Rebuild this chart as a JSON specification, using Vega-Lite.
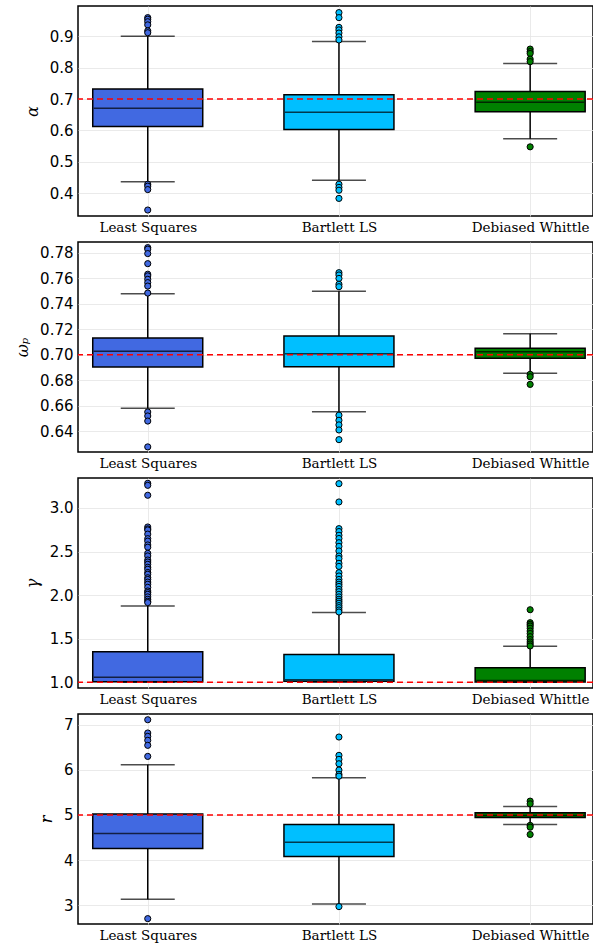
{
  "$schema": "https://vega.github.io/schema/vega-lite/v6.json",
  "padding": {"left": 13, "top": 5, "right": 1, "bottom": 0},
  "spacing": 6,
  "datasets": {
    "boxes": [
      {"panel": "alpha", "method": "Least Squares", "lo": 0.437, "q1": 0.613, "med": 0.671, "q3": 0.732, "hi": 0.9},
      {"panel": "alpha", "method": "Bartlett LS", "lo": 0.442, "q1": 0.603, "med": 0.658, "q3": 0.714, "hi": 0.883},
      {"panel": "alpha", "method": "Debiased Whittle", "lo": 0.574, "q1": 0.66, "med": 0.69, "q3": 0.724, "hi": 0.813},
      {"panel": "omega", "method": "Least Squares", "lo": 0.658, "q1": 0.6905, "med": 0.7028, "q3": 0.7133, "hi": 0.748},
      {"panel": "omega", "method": "Bartlett LS", "lo": 0.6554, "q1": 0.6907, "med": 0.7009, "q3": 0.7148, "hi": 0.7499},
      {"panel": "omega", "method": "Debiased Whittle", "lo": 0.6855, "q1": 0.6973, "med": 0.7025, "q3": 0.7052, "hi": 0.7166},
      {"panel": "gamma", "method": "Least Squares", "lo": 1.0, "q1": 1.008, "med": 1.058, "q3": 1.352, "hi": 1.876},
      {"panel": "gamma", "method": "Bartlett LS", "lo": 1.0, "q1": 1.012, "med": 1.03, "q3": 1.32, "hi": 1.8},
      {"panel": "gamma", "method": "Debiased Whittle", "lo": 1.0, "q1": 1.005, "med": 1.02, "q3": 1.168, "hi": 1.413},
      {"panel": "r", "method": "Least Squares", "lo": 3.133, "q1": 4.258, "med": 4.59, "q3": 5.02, "hi": 6.113},
      {"panel": "r", "method": "Bartlett LS", "lo": 3.028, "q1": 4.08, "med": 4.397, "q3": 4.79, "hi": 5.824},
      {"panel": "r", "method": "Debiased Whittle", "lo": 4.79, "q1": 4.945, "med": 4.99, "q3": 5.048, "hi": 5.19}
    ],
    "outliers": [
      {"panel": "alpha", "method": "Least Squares", "v": 0.959},
      {"panel": "alpha", "method": "Least Squares", "v": 0.954},
      {"panel": "alpha", "method": "Least Squares", "v": 0.946},
      {"panel": "alpha", "method": "Least Squares", "v": 0.936},
      {"panel": "alpha", "method": "Least Squares", "v": 0.917},
      {"panel": "alpha", "method": "Least Squares", "v": 0.911},
      {"panel": "alpha", "method": "Least Squares", "v": 0.429},
      {"panel": "alpha", "method": "Least Squares", "v": 0.423},
      {"panel": "alpha", "method": "Least Squares", "v": 0.412},
      {"panel": "alpha", "method": "Least Squares", "v": 0.347},
      {"panel": "alpha", "method": "Bartlett LS", "v": 0.975},
      {"panel": "alpha", "method": "Bartlett LS", "v": 0.959},
      {"panel": "alpha", "method": "Bartlett LS", "v": 0.928},
      {"panel": "alpha", "method": "Bartlett LS", "v": 0.92},
      {"panel": "alpha", "method": "Bartlett LS", "v": 0.91},
      {"panel": "alpha", "method": "Bartlett LS", "v": 0.898},
      {"panel": "alpha", "method": "Bartlett LS", "v": 0.888},
      {"panel": "alpha", "method": "Bartlett LS", "v": 0.429},
      {"panel": "alpha", "method": "Bartlett LS", "v": 0.419},
      {"panel": "alpha", "method": "Bartlett LS", "v": 0.41},
      {"panel": "alpha", "method": "Bartlett LS", "v": 0.384},
      {"panel": "alpha", "method": "Debiased Whittle", "v": 0.859},
      {"panel": "alpha", "method": "Debiased Whittle", "v": 0.851},
      {"panel": "alpha", "method": "Debiased Whittle", "v": 0.845},
      {"panel": "alpha", "method": "Debiased Whittle", "v": 0.827},
      {"panel": "alpha", "method": "Debiased Whittle", "v": 0.819},
      {"panel": "alpha", "method": "Debiased Whittle", "v": 0.548},
      {"panel": "omega", "method": "Least Squares", "v": 0.7842},
      {"panel": "omega", "method": "Least Squares", "v": 0.783},
      {"panel": "omega", "method": "Least Squares", "v": 0.7795},
      {"panel": "omega", "method": "Least Squares", "v": 0.7716},
      {"panel": "omega", "method": "Least Squares", "v": 0.7633},
      {"panel": "omega", "method": "Least Squares", "v": 0.762},
      {"panel": "omega", "method": "Least Squares", "v": 0.7593},
      {"panel": "omega", "method": "Least Squares", "v": 0.7567},
      {"panel": "omega", "method": "Least Squares", "v": 0.754},
      {"panel": "omega", "method": "Least Squares", "v": 0.7485},
      {"panel": "omega", "method": "Least Squares", "v": 0.6551},
      {"panel": "omega", "method": "Least Squares", "v": 0.652},
      {"panel": "omega", "method": "Least Squares", "v": 0.648},
      {"panel": "omega", "method": "Least Squares", "v": 0.6277},
      {"panel": "omega", "method": "Bartlett LS", "v": 0.7645},
      {"panel": "omega", "method": "Bartlett LS", "v": 0.7627},
      {"panel": "omega", "method": "Bartlett LS", "v": 0.76},
      {"panel": "omega", "method": "Bartlett LS", "v": 0.7554},
      {"panel": "omega", "method": "Bartlett LS", "v": 0.7535},
      {"panel": "omega", "method": "Bartlett LS", "v": 0.6526},
      {"panel": "omega", "method": "Bartlett LS", "v": 0.6486},
      {"panel": "omega", "method": "Bartlett LS", "v": 0.645},
      {"panel": "omega", "method": "Bartlett LS", "v": 0.641},
      {"panel": "omega", "method": "Bartlett LS", "v": 0.6334},
      {"panel": "omega", "method": "Debiased Whittle", "v": 0.6847},
      {"panel": "omega", "method": "Debiased Whittle", "v": 0.6828},
      {"panel": "omega", "method": "Debiased Whittle", "v": 0.6768},
      {"panel": "gamma", "method": "Least Squares", "v": 3.283},
      {"panel": "gamma", "method": "Least Squares", "v": 3.26},
      {"panel": "gamma", "method": "Least Squares", "v": 3.146},
      {"panel": "gamma", "method": "Least Squares", "v": 2.782},
      {"panel": "gamma", "method": "Least Squares", "v": 2.76},
      {"panel": "gamma", "method": "Least Squares", "v": 2.748},
      {"panel": "gamma", "method": "Least Squares", "v": 2.7},
      {"panel": "gamma", "method": "Least Squares", "v": 2.648},
      {"panel": "gamma", "method": "Least Squares", "v": 2.62},
      {"panel": "gamma", "method": "Least Squares", "v": 2.576},
      {"panel": "gamma", "method": "Least Squares", "v": 2.55},
      {"panel": "gamma", "method": "Least Squares", "v": 2.48},
      {"panel": "gamma", "method": "Least Squares", "v": 2.45},
      {"panel": "gamma", "method": "Least Squares", "v": 2.403},
      {"panel": "gamma", "method": "Least Squares", "v": 2.38},
      {"panel": "gamma", "method": "Least Squares", "v": 2.354},
      {"panel": "gamma", "method": "Least Squares", "v": 2.32},
      {"panel": "gamma", "method": "Least Squares", "v": 2.297},
      {"panel": "gamma", "method": "Least Squares", "v": 2.26},
      {"panel": "gamma", "method": "Least Squares", "v": 2.24},
      {"panel": "gamma", "method": "Least Squares", "v": 2.2},
      {"panel": "gamma", "method": "Least Squares", "v": 2.18},
      {"panel": "gamma", "method": "Least Squares", "v": 2.15},
      {"panel": "gamma", "method": "Least Squares", "v": 2.125},
      {"panel": "gamma", "method": "Least Squares", "v": 2.09},
      {"panel": "gamma", "method": "Least Squares", "v": 2.048},
      {"panel": "gamma", "method": "Least Squares", "v": 2.03},
      {"panel": "gamma", "method": "Least Squares", "v": 2.01},
      {"panel": "gamma", "method": "Least Squares", "v": 1.98},
      {"panel": "gamma", "method": "Least Squares", "v": 1.953},
      {"panel": "gamma", "method": "Least Squares", "v": 1.93},
      {"panel": "gamma", "method": "Least Squares", "v": 1.915},
      {"panel": "gamma", "method": "Bartlett LS", "v": 3.279},
      {"panel": "gamma", "method": "Bartlett LS", "v": 3.069},
      {"panel": "gamma", "method": "Bartlett LS", "v": 2.763},
      {"panel": "gamma", "method": "Bartlett LS", "v": 2.73},
      {"panel": "gamma", "method": "Bartlett LS", "v": 2.687},
      {"panel": "gamma", "method": "Bartlett LS", "v": 2.65},
      {"panel": "gamma", "method": "Bartlett LS", "v": 2.602},
      {"panel": "gamma", "method": "Bartlett LS", "v": 2.56},
      {"panel": "gamma", "method": "Bartlett LS", "v": 2.507},
      {"panel": "gamma", "method": "Bartlett LS", "v": 2.449},
      {"panel": "gamma", "method": "Bartlett LS", "v": 2.42},
      {"panel": "gamma", "method": "Bartlett LS", "v": 2.365},
      {"panel": "gamma", "method": "Bartlett LS", "v": 2.33},
      {"panel": "gamma", "method": "Bartlett LS", "v": 2.258},
      {"panel": "gamma", "method": "Bartlett LS", "v": 2.22},
      {"panel": "gamma", "method": "Bartlett LS", "v": 2.18},
      {"panel": "gamma", "method": "Bartlett LS", "v": 2.15},
      {"panel": "gamma", "method": "Bartlett LS", "v": 2.125},
      {"panel": "gamma", "method": "Bartlett LS", "v": 2.1},
      {"panel": "gamma", "method": "Bartlett LS", "v": 2.067},
      {"panel": "gamma", "method": "Bartlett LS", "v": 2.04},
      {"panel": "gamma", "method": "Bartlett LS", "v": 2.01},
      {"panel": "gamma", "method": "Bartlett LS", "v": 1.98},
      {"panel": "gamma", "method": "Bartlett LS", "v": 1.953},
      {"panel": "gamma", "method": "Bartlett LS", "v": 1.93},
      {"panel": "gamma", "method": "Bartlett LS", "v": 1.907},
      {"panel": "gamma", "method": "Bartlett LS", "v": 1.88},
      {"panel": "gamma", "method": "Bartlett LS", "v": 1.857},
      {"panel": "gamma", "method": "Bartlett LS", "v": 1.83},
      {"panel": "gamma", "method": "Bartlett LS", "v": 1.807},
      {"panel": "gamma", "method": "Debiased Whittle", "v": 1.833},
      {"panel": "gamma", "method": "Debiased Whittle", "v": 1.684},
      {"panel": "gamma", "method": "Debiased Whittle", "v": 1.665},
      {"panel": "gamma", "method": "Debiased Whittle", "v": 1.646},
      {"panel": "gamma", "method": "Debiased Whittle", "v": 1.62},
      {"panel": "gamma", "method": "Debiased Whittle", "v": 1.589},
      {"panel": "gamma", "method": "Debiased Whittle", "v": 1.56},
      {"panel": "gamma", "method": "Debiased Whittle", "v": 1.524},
      {"panel": "gamma", "method": "Debiased Whittle", "v": 1.49},
      {"panel": "gamma", "method": "Debiased Whittle", "v": 1.463},
      {"panel": "gamma", "method": "Debiased Whittle", "v": 1.44},
      {"panel": "gamma", "method": "Debiased Whittle", "v": 1.417},
      {"panel": "r", "method": "Least Squares", "v": 7.11},
      {"panel": "r", "method": "Least Squares", "v": 6.816},
      {"panel": "r", "method": "Least Squares", "v": 6.742},
      {"panel": "r", "method": "Least Squares", "v": 6.654},
      {"panel": "r", "method": "Least Squares", "v": 6.543},
      {"panel": "r", "method": "Least Squares", "v": 6.298},
      {"panel": "r", "method": "Least Squares", "v": 2.704},
      {"panel": "r", "method": "Bartlett LS", "v": 6.727},
      {"panel": "r", "method": "Bartlett LS", "v": 6.321},
      {"panel": "r", "method": "Bartlett LS", "v": 6.232},
      {"panel": "r", "method": "Bartlett LS", "v": 6.135},
      {"panel": "r", "method": "Bartlett LS", "v": 5.995},
      {"panel": "r", "method": "Bartlett LS", "v": 5.9},
      {"panel": "r", "method": "Bartlett LS", "v": 5.86},
      {"panel": "r", "method": "Bartlett LS", "v": 2.97},
      {"panel": "r", "method": "Debiased Whittle", "v": 5.307},
      {"panel": "r", "method": "Debiased Whittle", "v": 5.247},
      {"panel": "r", "method": "Debiased Whittle", "v": 4.77},
      {"panel": "r", "method": "Debiased Whittle", "v": 4.73},
      {"panel": "r", "method": "Debiased Whittle", "v": 4.568}
    ]
  },
  "vconcat": [
    {
      "width": 515, "height": 210,
      "layer": [
        {"data": {"name": "boxes"}, "transform": [{"filter": "datum.panel === 'alpha'"}],
         "mark": {"type": "rule", "color": "black", "strokeWidth": 1.5},
         "encoding": {
           "x": {"field": "method", "type": "nominal", "sort": ["Least Squares", "Bartlett LS", "Debiased Whittle"], "scale": {"type": "point", "padding": 0.3467, "align": 0.526}, "axis": {"title": null}},
           "y": {"field": "lo", "type": "quantitative", "scale": {"domain": [0.328, 0.996], "nice": false, "zero": false}, "axis": {"title": "α", "values": [0.4, 0.5, 0.6, 0.7, 0.8, 0.9], "format": ".1f"}},
           "y2": {"field": "hi"}}},
        {"data": {"name": "boxes"}, "transform": [{"filter": "datum.panel === 'alpha'"}],
         "mark": {"type": "bar", "width": 110, "stroke": "black", "strokeWidth": 1.5},
         "encoding": {
           "x": {"field": "method", "type": "nominal", "sort": ["Least Squares", "Bartlett LS", "Debiased Whittle"], "scale": {"type": "point", "padding": 0.3467, "align": 0.526}, "axis": {"title": null}},
           "y": {"field": "q1", "type": "quantitative", "scale": {"domain": [0.328, 0.996], "nice": false, "zero": false}, "axis": {"title": "α", "values": [0.4, 0.5, 0.6, 0.7, 0.8, 0.9], "format": ".1f"}},
           "y2": {"field": "q3"},
           "fill": {"field": "method", "type": "nominal", "scale": {"domain": ["Least Squares", "Bartlett LS", "Debiased Whittle"], "range": ["#4169E1", "#00BFFF", "#008000"]}, "legend": null}}},
        {"data": {"name": "boxes"}, "transform": [{"filter": "datum.panel === 'alpha'"}, {"fold": ["lo", "hi"], "as": ["end", "cap"]}],
         "mark": {"type": "tick", "color": "black", "size": 54, "thickness": 1.5},
         "encoding": {
           "x": {"field": "method", "type": "nominal", "sort": ["Least Squares", "Bartlett LS", "Debiased Whittle"], "scale": {"type": "point", "padding": 0.3467, "align": 0.526}, "axis": {"title": null}},
           "y": {"field": "cap", "type": "quantitative", "scale": {"domain": [0.328, 0.996], "nice": false, "zero": false}, "axis": {"title": "α", "values": [0.4, 0.5, 0.6, 0.7, 0.8, 0.9], "format": ".1f"}}}},
        {"data": {"name": "boxes"}, "transform": [{"filter": "datum.panel === 'alpha'"}],
         "mark": {"type": "tick", "color": "black", "size": 108, "thickness": 1.5},
         "encoding": {
           "x": {"field": "method", "type": "nominal", "sort": ["Least Squares", "Bartlett LS", "Debiased Whittle"], "scale": {"type": "point", "padding": 0.3467, "align": 0.526}, "axis": {"title": null}},
           "y": {"field": "med", "type": "quantitative", "scale": {"domain": [0.328, 0.996], "nice": false, "zero": false}, "axis": {"title": "α", "values": [0.4, 0.5, 0.6, 0.7, 0.8, 0.9], "format": ".1f"}}}},
        {"data": {"name": "outliers"}, "transform": [{"filter": "datum.panel === 'alpha'"}],
         "mark": {"type": "point", "filled": true, "stroke": "black", "strokeWidth": 1, "size": 38, "opacity": 1},
         "encoding": {
           "x": {"field": "method", "type": "nominal", "sort": ["Least Squares", "Bartlett LS", "Debiased Whittle"], "scale": {"type": "point", "padding": 0.3467, "align": 0.526}, "axis": {"title": null}},
           "y": {"field": "v", "type": "quantitative", "scale": {"domain": [0.328, 0.996], "nice": false, "zero": false}, "axis": {"title": "α", "values": [0.4, 0.5, 0.6, 0.7, 0.8, 0.9], "format": ".1f"}},
           "fill": {"field": "method", "type": "nominal", "scale": {"domain": ["Least Squares", "Bartlett LS", "Debiased Whittle"], "range": ["#4169E1", "#00BFFF", "#008000"]}, "legend": null}}},
        {"data": {"values": [{"truth": 0.7}]},
         "mark": {"type": "rule", "color": "#ff0000", "strokeWidth": 1.5, "strokeDash": [6, 4]},
         "encoding": {
           "y": {"field": "truth", "type": "quantitative", "scale": {"domain": [0.328, 0.996], "nice": false, "zero": false}, "axis": {"title": "α", "values": [0.4, 0.5, 0.6, 0.7, 0.8, 0.9], "format": ".1f"}}}}
      ]
    },
    {
      "width": 515, "height": 210,
      "layer": [
        {"data": {"name": "boxes"}, "transform": [{"filter": "datum.panel === 'omega'"}],
         "mark": {"type": "rule", "color": "black", "strokeWidth": 1.5},
         "encoding": {
           "x": {"field": "method", "type": "nominal", "sort": ["Least Squares", "Bartlett LS", "Debiased Whittle"], "scale": {"type": "point", "padding": 0.3467, "align": 0.526}, "axis": {"title": null}},
           "y": {"field": "lo", "type": "quantitative", "scale": {"domain": [0.6237, 0.7886], "nice": false, "zero": false}, "axis": {"title": "ωₚ", "values": [0.64, 0.66, 0.68, 0.7, 0.72, 0.74, 0.76, 0.78], "format": ".2f"}},
           "y2": {"field": "hi"}}},
        {"data": {"name": "boxes"}, "transform": [{"filter": "datum.panel === 'omega'"}],
         "mark": {"type": "bar", "width": 110, "stroke": "black", "strokeWidth": 1.5},
         "encoding": {
           "x": {"field": "method", "type": "nominal", "sort": ["Least Squares", "Bartlett LS", "Debiased Whittle"], "scale": {"type": "point", "padding": 0.3467, "align": 0.526}, "axis": {"title": null}},
           "y": {"field": "q1", "type": "quantitative", "scale": {"domain": [0.6237, 0.7886], "nice": false, "zero": false}, "axis": {"title": "ωₚ", "values": [0.64, 0.66, 0.68, 0.7, 0.72, 0.74, 0.76, 0.78], "format": ".2f"}},
           "y2": {"field": "q3"},
           "fill": {"field": "method", "type": "nominal", "scale": {"domain": ["Least Squares", "Bartlett LS", "Debiased Whittle"], "range": ["#4169E1", "#00BFFF", "#008000"]}, "legend": null}}},
        {"data": {"name": "boxes"}, "transform": [{"filter": "datum.panel === 'omega'"}, {"fold": ["lo", "hi"], "as": ["end", "cap"]}],
         "mark": {"type": "tick", "color": "black", "size": 54, "thickness": 1.5},
         "encoding": {
           "x": {"field": "method", "type": "nominal", "sort": ["Least Squares", "Bartlett LS", "Debiased Whittle"], "scale": {"type": "point", "padding": 0.3467, "align": 0.526}, "axis": {"title": null}},
           "y": {"field": "cap", "type": "quantitative", "scale": {"domain": [0.6237, 0.7886], "nice": false, "zero": false}, "axis": {"title": "ωₚ", "values": [0.64, 0.66, 0.68, 0.7, 0.72, 0.74, 0.76, 0.78], "format": ".2f"}}}},
        {"data": {"name": "boxes"}, "transform": [{"filter": "datum.panel === 'omega'"}],
         "mark": {"type": "tick", "color": "black", "size": 108, "thickness": 1.5},
         "encoding": {
           "x": {"field": "method", "type": "nominal", "sort": ["Least Squares", "Bartlett LS", "Debiased Whittle"], "scale": {"type": "point", "padding": 0.3467, "align": 0.526}, "axis": {"title": null}},
           "y": {"field": "med", "type": "quantitative", "scale": {"domain": [0.6237, 0.7886], "nice": false, "zero": false}, "axis": {"title": "ωₚ", "values": [0.64, 0.66, 0.68, 0.7, 0.72, 0.74, 0.76, 0.78], "format": ".2f"}}}},
        {"data": {"name": "outliers"}, "transform": [{"filter": "datum.panel === 'omega'"}],
         "mark": {"type": "point", "filled": true, "stroke": "black", "strokeWidth": 1, "size": 38, "opacity": 1},
         "encoding": {
           "x": {"field": "method", "type": "nominal", "sort": ["Least Squares", "Bartlett LS", "Debiased Whittle"], "scale": {"type": "point", "padding": 0.3467, "align": 0.526}, "axis": {"title": null}},
           "y": {"field": "v", "type": "quantitative", "scale": {"domain": [0.6237, 0.7886], "nice": false, "zero": false}, "axis": {"title": "ωₚ", "values": [0.64, 0.66, 0.68, 0.7, 0.72, 0.74, 0.76, 0.78], "format": ".2f"}},
           "fill": {"field": "method", "type": "nominal", "scale": {"domain": ["Least Squares", "Bartlett LS", "Debiased Whittle"], "range": ["#4169E1", "#00BFFF", "#008000"]}, "legend": null}}},
        {"data": {"values": [{"truth": 0.7}]},
         "mark": {"type": "rule", "color": "#ff0000", "strokeWidth": 1.5, "strokeDash": [6, 4]},
         "encoding": {
           "y": {"field": "truth", "type": "quantitative", "scale": {"domain": [0.6237, 0.7886], "nice": false, "zero": false}, "axis": {"title": "ωₚ", "values": [0.64, 0.66, 0.68, 0.7, 0.72, 0.74, 0.76, 0.78], "format": ".2f"}}}}
      ]
    },
    {
      "width": 515, "height": 210,
      "layer": [
        {"data": {"name": "boxes"}, "transform": [{"filter": "datum.panel === 'gamma'"}],
         "mark": {"type": "rule", "color": "black", "strokeWidth": 1.5},
         "encoding": {
           "x": {"field": "method", "type": "nominal", "sort": ["Least Squares", "Bartlett LS", "Debiased Whittle"], "scale": {"type": "point", "padding": 0.3467, "align": 0.526}, "axis": {"title": null}},
           "y": {"field": "lo", "type": "quantitative", "scale": {"domain": [0.935, 3.344], "nice": false, "zero": false}, "axis": {"title": "γ", "values": [1.0, 1.5, 2.0, 2.5, 3.0], "format": ".1f"}},
           "y2": {"field": "hi"}}},
        {"data": {"name": "boxes"}, "transform": [{"filter": "datum.panel === 'gamma'"}],
         "mark": {"type": "bar", "width": 110, "stroke": "black", "strokeWidth": 1.5},
         "encoding": {
           "x": {"field": "method", "type": "nominal", "sort": ["Least Squares", "Bartlett LS", "Debiased Whittle"], "scale": {"type": "point", "padding": 0.3467, "align": 0.526}, "axis": {"title": null}},
           "y": {"field": "q1", "type": "quantitative", "scale": {"domain": [0.935, 3.344], "nice": false, "zero": false}, "axis": {"title": "γ", "values": [1.0, 1.5, 2.0, 2.5, 3.0], "format": ".1f"}},
           "y2": {"field": "q3"},
           "fill": {"field": "method", "type": "nominal", "scale": {"domain": ["Least Squares", "Bartlett LS", "Debiased Whittle"], "range": ["#4169E1", "#00BFFF", "#008000"]}, "legend": null}}},
        {"data": {"name": "boxes"}, "transform": [{"filter": "datum.panel === 'gamma'"}, {"fold": ["lo", "hi"], "as": ["end", "cap"]}],
         "mark": {"type": "tick", "color": "black", "size": 54, "thickness": 1.5},
         "encoding": {
           "x": {"field": "method", "type": "nominal", "sort": ["Least Squares", "Bartlett LS", "Debiased Whittle"], "scale": {"type": "point", "padding": 0.3467, "align": 0.526}, "axis": {"title": null}},
           "y": {"field": "cap", "type": "quantitative", "scale": {"domain": [0.935, 3.344], "nice": false, "zero": false}, "axis": {"title": "γ", "values": [1.0, 1.5, 2.0, 2.5, 3.0], "format": ".1f"}}}},
        {"data": {"name": "boxes"}, "transform": [{"filter": "datum.panel === 'gamma'"}],
         "mark": {"type": "tick", "color": "black", "size": 108, "thickness": 1.5},
         "encoding": {
           "x": {"field": "method", "type": "nominal", "sort": ["Least Squares", "Bartlett LS", "Debiased Whittle"], "scale": {"type": "point", "padding": 0.3467, "align": 0.526}, "axis": {"title": null}},
           "y": {"field": "med", "type": "quantitative", "scale": {"domain": [0.935, 3.344], "nice": false, "zero": false}, "axis": {"title": "γ", "values": [1.0, 1.5, 2.0, 2.5, 3.0], "format": ".1f"}}}},
        {"data": {"name": "outliers"}, "transform": [{"filter": "datum.panel === 'gamma'"}],
         "mark": {"type": "point", "filled": true, "stroke": "black", "strokeWidth": 1, "size": 38, "opacity": 1},
         "encoding": {
           "x": {"field": "method", "type": "nominal", "sort": ["Least Squares", "Bartlett LS", "Debiased Whittle"], "scale": {"type": "point", "padding": 0.3467, "align": 0.526}, "axis": {"title": null}},
           "y": {"field": "v", "type": "quantitative", "scale": {"domain": [0.935, 3.344], "nice": false, "zero": false}, "axis": {"title": "γ", "values": [1.0, 1.5, 2.0, 2.5, 3.0], "format": ".1f"}},
           "fill": {"field": "method", "type": "nominal", "scale": {"domain": ["Least Squares", "Bartlett LS", "Debiased Whittle"], "range": ["#4169E1", "#00BFFF", "#008000"]}, "legend": null}}},
        {"data": {"values": [{"truth": 1.0}]},
         "mark": {"type": "rule", "color": "#ff0000", "strokeWidth": 1.5, "strokeDash": [6, 4]},
         "encoding": {
           "y": {"field": "truth", "type": "quantitative", "scale": {"domain": [0.935, 3.344], "nice": false, "zero": false}, "axis": {"title": "γ", "values": [1.0, 1.5, 2.0, 2.5, 3.0], "format": ".1f"}}}}
      ]
    },
    {
      "width": 515, "height": 210,
      "layer": [
        {"data": {"name": "boxes"}, "transform": [{"filter": "datum.panel === 'r'"}],
         "mark": {"type": "rule", "color": "black", "strokeWidth": 1.5},
         "encoding": {
           "x": {"field": "method", "type": "nominal", "sort": ["Least Squares", "Bartlett LS", "Debiased Whittle"], "scale": {"type": "point", "padding": 0.3467, "align": 0.526}, "axis": {"title": null}},
           "y": {"field": "lo", "type": "quantitative", "scale": {"domain": [2.585, 7.237], "nice": false, "zero": false}, "axis": {"title": "r", "values": [3, 4, 5, 6, 7], "format": "d"}},
           "y2": {"field": "hi"}}},
        {"data": {"name": "boxes"}, "transform": [{"filter": "datum.panel === 'r'"}],
         "mark": {"type": "bar", "width": 110, "stroke": "black", "strokeWidth": 1.5},
         "encoding": {
           "x": {"field": "method", "type": "nominal", "sort": ["Least Squares", "Bartlett LS", "Debiased Whittle"], "scale": {"type": "point", "padding": 0.3467, "align": 0.526}, "axis": {"title": null}},
           "y": {"field": "q1", "type": "quantitative", "scale": {"domain": [2.585, 7.237], "nice": false, "zero": false}, "axis": {"title": "r", "values": [3, 4, 5, 6, 7], "format": "d"}},
           "y2": {"field": "q3"},
           "fill": {"field": "method", "type": "nominal", "scale": {"domain": ["Least Squares", "Bartlett LS", "Debiased Whittle"], "range": ["#4169E1", "#00BFFF", "#008000"]}, "legend": null}}},
        {"data": {"name": "boxes"}, "transform": [{"filter": "datum.panel === 'r'"}, {"fold": ["lo", "hi"], "as": ["end", "cap"]}],
         "mark": {"type": "tick", "color": "black", "size": 54, "thickness": 1.5},
         "encoding": {
           "x": {"field": "method", "type": "nominal", "sort": ["Least Squares", "Bartlett LS", "Debiased Whittle"], "scale": {"type": "point", "padding": 0.3467, "align": 0.526}, "axis": {"title": null}},
           "y": {"field": "cap", "type": "quantitative", "scale": {"domain": [2.585, 7.237], "nice": false, "zero": false}, "axis": {"title": "r", "values": [3, 4, 5, 6, 7], "format": "d"}}}},
        {"data": {"name": "boxes"}, "transform": [{"filter": "datum.panel === 'r'"}],
         "mark": {"type": "tick", "color": "black", "size": 108, "thickness": 1.5},
         "encoding": {
           "x": {"field": "method", "type": "nominal", "sort": ["Least Squares", "Bartlett LS", "Debiased Whittle"], "scale": {"type": "point", "padding": 0.3467, "align": 0.526}, "axis": {"title": null}},
           "y": {"field": "med", "type": "quantitative", "scale": {"domain": [2.585, 7.237], "nice": false, "zero": false}, "axis": {"title": "r", "values": [3, 4, 5, 6, 7], "format": "d"}}}},
        {"data": {"name": "outliers"}, "transform": [{"filter": "datum.panel === 'r'"}],
         "mark": {"type": "point", "filled": true, "stroke": "black", "strokeWidth": 1, "size": 38, "opacity": 1},
         "encoding": {
           "x": {"field": "method", "type": "nominal", "sort": ["Least Squares", "Bartlett LS", "Debiased Whittle"], "scale": {"type": "point", "padding": 0.3467, "align": 0.526}, "axis": {"title": null}},
           "y": {"field": "v", "type": "quantitative", "scale": {"domain": [2.585, 7.237], "nice": false, "zero": false}, "axis": {"title": "r", "values": [3, 4, 5, 6, 7], "format": "d"}},
           "fill": {"field": "method", "type": "nominal", "scale": {"domain": ["Least Squares", "Bartlett LS", "Debiased Whittle"], "range": ["#4169E1", "#00BFFF", "#008000"]}, "legend": null}}},
        {"data": {"values": [{"truth": 5}]},
         "mark": {"type": "rule", "color": "#ff0000", "strokeWidth": 1.5, "strokeDash": [6, 4]},
         "encoding": {
           "y": {"field": "truth", "type": "quantitative", "scale": {"domain": [2.585, 7.237], "nice": false, "zero": false}, "axis": {"title": "r", "values": [3, 4, 5, 6, 7], "format": "d"}}}}
      ]
    }
  ],
  "config": {
    "view": {"stroke": "black", "strokeWidth": 1.5},
    "axis": {"domain": false, "ticks": false, "tickSize": 0, "grid": true, "gridColor": "#e4e4e4", "gridWidth": 0.8},
    "axisY": {"labelFont": "DejaVu Sans", "labelFontSize": 15, "labelColor": "black", "labelPadding": 5,
              "titleFont": "DejaVu Serif", "titleFontStyle": "italic", "titleFontWeight": "normal", "titleFontSize": 16, "titleColor": "black", "titlePadding": 9},
    "axisX": {"labelFont": "DejaVu Serif", "labelFontSize": 13.5, "labelColor": "black", "labelAngle": 0, "labelPadding": 4}
  }
}
